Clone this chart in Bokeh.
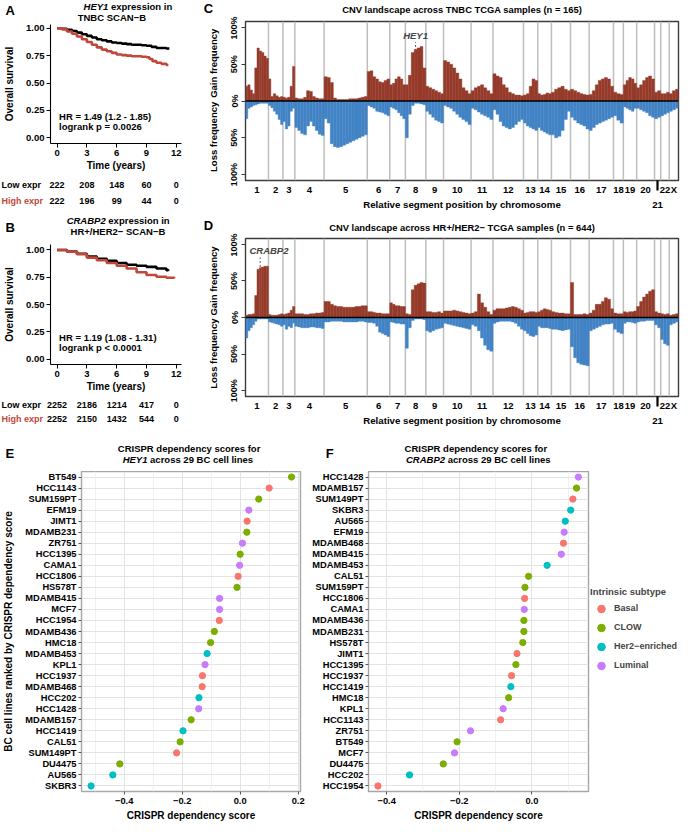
import math
from bokeh.plotting import figure
from bokeh.models import (Label, Range1d, FactorRange, FixedTicker, NumeralTickFormatter,
                          Legend, LegendItem, Span, LinearAxis)
from bokeh.layouts import row, column
from bokeh.embed import file_html
from bokeh.resources import INLINE

# ======================= DATA =======================
# Kaplan-Meier curves (time in years, survival probability)
A_LOW_T = [0, 0.5, 1, 1.5, 2, 2.5, 3, 3.5, 4, 4.5, 5, 5.5, 6, 6.5, 7, 7.5, 8, 8.5, 9, 9.5, 10, 10.5, 11, 11.3]
A_LOW_S = [1.0, 0.995, 0.985, 0.975, 0.96, 0.945, 0.93, 0.915, 0.90, 0.89, 0.88, 0.87, 0.865, 0.86, 0.855,
           0.85, 0.85, 0.845, 0.84, 0.83, 0.82, 0.82, 0.815, 0.815]
A_HIGH_T = [0, 0.5, 1, 1.5, 2, 2.5, 3, 3.5, 4, 4.5, 5, 5.5, 6, 6.5, 7, 7.5, 8, 8.5, 9, 9.3, 9.6, 10, 10.5, 11, 11.2]
A_HIGH_S = [1.0, 0.99, 0.97, 0.95, 0.925, 0.90, 0.875, 0.85, 0.825, 0.805, 0.79, 0.775, 0.76, 0.755, 0.75,
            0.745, 0.745, 0.74, 0.735, 0.72, 0.70, 0.685, 0.675, 0.665, 0.665]
B_LOW_T = [0, 1, 2, 3, 4, 5, 6, 7, 8, 9, 10, 11, 11.2]
B_LOW_S = [1.0, 0.985, 0.965, 0.94, 0.92, 0.90, 0.88, 0.865, 0.855, 0.845, 0.83, 0.815, 0.81]
B_HIGH_T = [0, 1, 2, 3, 4, 5, 6, 7, 8, 9, 10, 11, 11.8]
B_HIGH_S = [1.0, 0.985, 0.96, 0.93, 0.905, 0.88, 0.855, 0.83, 0.795, 0.77, 0.755, 0.745, 0.74]

RISK_T = [0, 3, 6, 9, 12]
A_LOW_RISK = [222, 208, 148, 60, 0]
A_HIGH_RISK = [222, 196, 99, 44, 0]
B_LOW_RISK = [2252, 2186, 1214, 417, 0]
B_HIGH_RISK = [2252, 2150, 1432, 544, 0]

# CNV landscapes: relative number of segments per chromosome, gain / loss frequency (%) per block
CHROMS = ["1", "2", "3", "4", "5", "6", "7", "8", "9", "10", "11", "12", "13", "14", "15", "16",
          "17", "18", "19", "20", "21", "22", "X"]
CHR_SEGMENTS = [235, 148, 122, 299, 442, 230, 160, 209, 181, 282, 224, 312, 146, 140, 195, 191,
                249, 101, 136, 183, 63, 87, 95]
C_GAIN = [
    [20, 22, 15, 10, 45, 72, 68, 66, 61, 58], [30, 6, 10, 7, 5, 6], [5, 4, 5, 20, 47],
    [4, 3, 3, 5, 14, 13, 6, 4, 3, 3], [33, 32, 25, 4, 2, 2, 2, 2, 3, 3, 3, 4, 5, 6],
    [40, 41, 33, 30, 26, 25, 28, 30], [22, 24, 30, 33, 30, 22], [22, 35, 66, 70, 72, 74, 45],
    [20, 18, 16, 14, 12, 10], [55, 53, 50, 45, 38, 30, 18, 14, 10], [14, 18, 20, 22, 18, 14, 10],
    [37, 34, 32, 22, 18, 12, 10, 8, 8, 7], [8, 10, 20, 30, 28], [10, 8, 9, 11, 10],
    [12, 16, 18, 20, 16, 14], [16, 14, 12, 10, 9, 8], [9, 14, 22, 28, 30, 32, 30, 20],
    [12, 10, 9], [22, 28, 32, 30, 24], [18, 22, 28, 32, 34, 30], [12, 14], [10, 10, 12], [10, 14, 16]]
C_LOSS = [
    [24, 10, 8, 6, 5, 4, 3, 3, 3, 3], [6, 9, 14, 18, 25, 32], [28, 38, 34, 14, 10],
    [36, 40, 44, 46, 34, 28, 34, 40, 45, 47], [24, 30, 58, 62, 63, 62, 60, 58, 56, 54, 52, 50, 48, 46],
    [6, 8, 10, 14, 15, 16, 18, 20], [8, 10, 12, 16, 20, 24], [50, 18, 6, 3, 3, 4, 5],
    [14, 18, 22, 26, 28, 30], [6, 8, 10, 14, 18, 22, 25, 28, 32], [10, 12, 15, 18, 20, 22, 25],
    [12, 18, 28, 34, 36, 38, 36, 32, 28, 25], [30, 34, 36, 38, 40], [36, 40, 42, 44, 46],
    [46, 50, 48, 40, 25, 14], [22, 26, 30, 32, 34, 38], [40, 36, 32, 30, 28, 26, 24, 22],
    [20, 26, 30], [8, 10, 12, 14, 10], [10, 12, 14, 16, 20, 22], [24, 22], [20, 18, 16], [14, 12, 10]]
D_GAIN = [
    [3, 4, 4, 5, 30, 66, 68, 69, 70, 70], [4, 3, 3, 3, 4, 5], [4, 5, 6, 10, 15],
    [5, 5, 5, 4, 4, 5, 5, 6, 6, 7], [22, 22, 18, 16, 15, 15, 14, 14, 14, 14, 15, 15, 16, 16],
    [8, 8, 7, 6, 6, 5, 5, 5], [20, 18, 16, 16, 15, 15], [5, 4, 38, 44, 46, 48, 47],
    [8, 8, 7, 7, 8, 6], [9, 9, 9, 10, 9, 8, 7, 6, 5], [6, 8, 32, 20, 14, 8, 4],
    [10, 12, 12, 12, 13, 14, 15, 14, 12, 10], [6, 7, 8, 8, 7], [8, 10, 12, 11, 10],
    [8, 7, 6, 6, 5, 5], [48, 4, 4, 4, 5, 4], [6, 10, 18, 18, 22, 27, 25, 12],
    [6, 5, 5], [8, 7, 8, 8, 9], [15, 22, 28, 32, 36, 38], [8, 6], [5, 4, 5], [3, 4, 5]]
D_LOSS = [
    [28, 18, 14, 10, 5, 2, 2, 2, 2, 2], [6, 7, 8, 9, 10, 12], [10, 16, 12, 14, 8],
    [12, 13, 14, 14, 14, 13, 13, 14, 14, 15], [6, 6, 5, 5, 5, 5, 6, 6, 6, 6, 6, 5, 5, 6],
    [7, 7, 8, 12, 20, 22, 24, 26], [6, 7, 8, 8, 9, 9], [42, 14, 4, 2, 2, 2, 3],
    [18, 20, 18, 16, 15, 14], [8, 9, 10, 11, 12, 13, 14, 15, 16], [10, 12, 18, 28, 38, 44, 46],
    [8, 6, 5, 5, 5, 5, 6, 8, 12, 16], [18, 22, 25, 26, 24], [12, 14, 14, 14, 15],
    [16, 16, 17, 18, 17, 16], [40, 55, 62, 64, 65, 66], [18, 16, 14, 12, 10, 9, 9, 8],
    [16, 20, 22], [8, 6, 6, 7, 8], [6, 5, 5, 4, 4, 4], [10, 14], [30, 36, 38], [10, 8, 6]]
HEY1_POS = 1740
CRABP2_POS = 150

# CRISPR dependency scores
SUBTYPES = ["Basal", "CLOW", "Her2−enriched", "Luminal"]
SUBTYPE_COLORS = ["#F8766D", "#7CAE00", "#00BFC4", "#C77CFF"]
E_LINES = ["BT549", "HCC1143", "SUM159PT", "EFM19", "JIMT1", "MDAMB231", "ZR751", "HCC1395", "CAMA1",
           "HCC1806", "HS578T", "MDAMB415", "MCF7", "HCC1954", "MDAMB436", "HMC18", "MDAMB453", "KPL1",
           "HCC1937", "MDAMB468", "HCC202", "HCC1428", "MDAMB157", "HCC1419", "CAL51", "SUM149PT",
           "DU4475", "AU565", "SKBR3"]
E_SCORES = [0.177, 0.100, 0.064, 0.030, 0.024, 0.023, 0.008, 0.000, -0.002, -0.007, -0.011, -0.071,
            -0.071, -0.072, -0.089, -0.102, -0.114, -0.121, -0.130, -0.131, -0.142, -0.143, -0.169,
            -0.197, -0.207, -0.219, -0.415, -0.439, -0.514]
E_TYPES = ["CLOW", "Basal", "CLOW", "Luminal", "Basal", "CLOW", "Luminal", "CLOW", "Luminal", "Basal",
           "CLOW", "Luminal", "Luminal", "Basal", "CLOW", "CLOW", "Her2−enriched", "Luminal", "Basal",
           "Basal", "Her2−enriched", "Luminal", "CLOW", "Her2−enriched", "CLOW", "Basal", "CLOW",
           "Her2−enriched", "Her2−enriched"]
F_LINES = ["HCC1428", "MDAMB157", "SUM149PT", "SKBR3", "AU565", "EFM19", "MDAMB468", "MDAMB415",
           "MDAMB453", "CAL51", "SUM159PT", "HCC1806", "CAMA1", "MDAMB436", "MDAMB231", "HS578T", "JIMT1",
           "HCC1395", "HCC1937", "HCC1419", "HMC18", "KPL1", "HCC1143", "ZR751", "BT549", "MCF7",
           "DU4475", "HCC202", "HCC1954"]
F_SCORES = [0.128, 0.123, 0.113, 0.107, 0.092, 0.089, 0.087, 0.081, 0.042, -0.009, -0.019, -0.020,
            -0.021, -0.022, -0.022, -0.025, -0.041, -0.044, -0.056, -0.058, -0.064, -0.079, -0.086,
            -0.169, -0.206, -0.213, -0.244, -0.337, -0.424]
F_TYPES = ["Luminal", "CLOW", "Basal", "Her2−enriched", "Her2−enriched", "Luminal", "Basal", "Luminal",
           "Her2−enriched", "CLOW", "CLOW", "Basal", "Luminal", "CLOW", "CLOW", "CLOW", "Basal", "CLOW",
           "Basal", "Her2−enriched", "CLOW", "Luminal", "Basal", "Luminal", "CLOW", "Luminal", "CLOW",
           "Her2−enriched", "Basal"]

# ======================= STYLE / LAYOUT =======================
PAGE_W, PAGE_H = 680, 823
SX, SY = PAGE_W / 696.0, PAGE_H / 839.0
FONT = "Liberation Sans"
KM_RED = "#C0473A"
GAIN_COL = "#963A2A"
LOSS_COL = "#4283C5"
W_BOLD = {"H": .722, "E": .667, "Y": .667, "1": .556, "C": .722, "R": .722, "A": .722, "B": .722,
          "P": .667, "2": .556, " ": .278}


def tw(s, size):
    return sum(W_BOLD[c] for c in s) * size


def geom(box, frame=None):
    X0, Y0, X1, Y1 = box
    ox, oy = round(X0 * SX), round(Y0 * SY)
    w, h = round(X1 * SX) - ox, round(Y1 * SY) - oy
    if frame is None:
        return dict(ox=ox, oy=oy, w=w, h=h, fl=0, ft=0, fr=w, fb=h)
    return dict(ox=ox, oy=oy, w=w, h=h,
                fl=round(frame[0] * SX) - ox, ft=round(frame[1] * SY) - oy,
                fr=round(frame[2] * SX) - ox, fb=round(frame[3] * SY) - oy)


def make_fig(g, **kw):
    p = figure(width=g["w"], height=g["h"], title=None, frame_align=False,
               min_border_left=g["fl"], min_border_right=g["w"] - g["fr"],
               min_border_top=g["ft"], min_border_bottom=g["h"] - g["fb"],
               output_backend="svg", toolbar_location=None, **kw)
    p.grid.visible = False
    p.outline_line_color = None
    return p


def strip(box, x_range=None):
    g = geom(box)
    p = figure(width=g["w"], height=g["h"], title=None, frame_align=False, min_border=0,
               min_border_left=0, min_border_right=0, min_border_top=0, min_border_bottom=0,
               output_backend="svg", toolbar_location=None,
               x_axis_location=None, y_axis_location=None,
               x_range=x_range if x_range is not None else Range1d(0, g["w"]),
               y_range=Range1d(0, g["h"]))
    p.grid.visible = False
    p.outline_line_color = None
    return p, g


def sx_(g, X):
    return X * SX - g["ox"] - g["fl"]


def sy_(g, Y):
    return g["fb"] - (Y * SY - g["oy"])


def text(p, g, X, Y, s, size=9.5, style="bold", align="left", color="black", angle=0.0, dx=0.0):
    p.add_layout(Label(x=sx_(g, X) + dx, y=sy_(g, Y), x_units="screen", y_units="screen", text=s,
                       text_font=FONT, text_font_size=f"{size}px", text_font_style=style,
                       text_align=align, text_baseline="middle", text_color=color, angle=angle))


def style_axis(ax, size=9.5):
    ax.major_label_text_font = FONT
    ax.major_label_text_font_style = "bold"
    ax.major_label_text_font_size = f"{size}px"
    ax.major_label_text_color = "black"
    ax.axis_label_text_font = FONT
    ax.axis_label_text_font_style = "bold"
    ax.axis_label_text_font_size = "10px"
    ax.axis_label_text_color = "black"
    ax.minor_tick_line_color = None


# ---------------- KM panels ----------------
KM_X = (-0.66, 12.52)


def km_block(top_box, plot_box, frame, risk_box, y_rng, lo_t, lo_s, hi_t, hi_s, lo_risk, hi_risk,
             letter, letterY, gene, rest, line2, t1x, t2x, tY1, tY2, hr, pv, hrY, riskY):
    ts, tg = strip(top_box)
    text(ts, tg, 5, letterY, letter, size=13)
    text(ts, tg, t1x, tY1, gene, style="bold italic")
    text(ts, tg, t1x, tY1, rest, dx=tw(gene + " ", 9.5))
    text(ts, tg, t2x, tY2, line2)

    g = geom(plot_box, frame)
    p = make_fig(g, x_range=Range1d(*KM_X), y_range=Range1d(*y_rng))
    p.step(lo_t, lo_s, mode="after", line_color="black", line_width=2.6)
    p.step(hi_t, hi_s, mode="after", line_color=KM_RED, line_width=2.6)
    for ax in (p.xaxis[0], p.yaxis[0]):
        style_axis(ax)
        ax.axis_line_color = "black"
        ax.axis_line_width = 1.1
        ax.major_tick_line_color = "black"
        ax.major_tick_out = 4
        ax.major_tick_in = 0
        ax.major_label_standoff = 2
    p.xaxis.ticker = FixedTicker(ticks=RISK_T)
    p.xaxis.axis_label = "Time (years)"
    p.xaxis.axis_label_standoff = 1
    p.yaxis.ticker = FixedTicker(ticks=[0, 0.25, 0.5, 0.75, 1.0])
    p.yaxis.formatter = NumeralTickFormatter(format="0.00")
    p.yaxis.axis_label = "Overall survival"
    p.yaxis.axis_label_standoff = 8
    text(p, g, 60, hrY[0], hr)
    text(p, g, 60, hrY[1], pv)

    rg0 = geom(risk_box)
    k = (g["fr"] - g["fl"]) / (KM_X[1] - KM_X[0])
    rr = Range1d(KM_X[0] - g["fl"] / k, KM_X[1] + (rg0["w"] - g["fr"]) / k)
    rs, rg = strip(risk_box, x_range=rr)
    for lab, vals, col, Y in (("Low expr", lo_risk, "black", riskY[0]),
                              ("High expr", hi_risk, KM_RED, riskY[1])):
        text(rs, rg, 1, Y, lab, size=9, color=col)
        for t, v in zip(RISK_T, vals):
            rs.add_layout(Label(x=t, y=sy_(rg, Y), x_units="data", y_units="screen", text=str(v),
                                text_font=FONT, text_font_size="9px", text_font_style="bold",
                                text_align="center", text_baseline="middle", text_color="black"))
    return [ts, p, rs]


colA = km_block((0, 0, 205, 22.5), (0, 22.5, 205, 176), (51, 24.5, 185, 145.7), (0, 176, 205, 218),
                (-0.051, 1.034), A_LOW_T, A_LOW_S, A_HIGH_T, A_HIGH_S, A_LOW_RISK, A_HIGH_RISK,
                "A", 10, "HEY1", "expression in", "TNBC SCAN−B", 85, 79, 6.3, 17,
                "HR = 1.49 (1.2 - 1.85)", "logrank p = 0.0026", (118.3, 128.3), (188, 204))
colB = km_block((0, 218, 205, 246), (0, 246, 205, 402), (51, 248.4, 185, 371.6), (0, 402, 205, 440),
                (-0.05, 1.05), B_LOW_T, B_LOW_S, B_HIGH_T, B_HIGH_S, B_LOW_RISK, B_HIGH_RISK,
                "B", 231, "CRABP2", "expression in", "HR+/HER2− SCAN−B", 67.7, 71.7, 224.5, 236,
                "HR = 1.19 (1.08 - 1.31)", "logrank p < 0.0001", (344.3, 355), (412, 427))


# ---------------- CNV panels ----------------
def cnv_block(top_box, side_box, plot_box, frame, gain, loss, letter, title, titleY, letterY, gainY, lossY,
              gene, gpos, glx, galign, gy, gy0, gy1):
    ts, tg = strip(top_box)
    text(ts, tg, 208, letterY, letter, size=13)
    text(ts, tg, 472.5, titleY, title, size=9.4, align="center")
    ss, sg = strip(side_box)
    text(ss, sg, 218, gainY, "Gain frequency", align="center", angle=math.pi / 2)
    text(ss, sg, 218, lossY, "Loss frequency", align="center", angle=math.pi / 2)

    g = geom(plot_box, frame)
    total = sum(CHR_SEGMENTS)
    p = make_fig(g, x_range=Range1d(0, total), y_range=Range1d(-1.08, 1.08))
    p.outline_line_color = "#3C3C3C"
    p.outline_line_width = 1.4
    bounds = [0]
    for n in CHR_SEGMENTS:
        bounds.append(bounds[-1] + n)
    for b in bounds[1:-1]:
        p.add_layout(Span(location=b, dimension="height", line_color="#BEBEBE", line_width=1.5,
                          level="underlay"))

    def blocks(vals_per_chr, sign):
        left, right, top, bottom = [], [], [], []
        for ci, vals in enumerate(vals_per_chr):
            a, b = bounds[ci], bounds[ci + 1]
            n = len(vals)
            for j, v in enumerate(vals):
                left.append(a + (b - a) * j / n)
                right.append(a + (b - a) * (j + 1) / n)
                if sign > 0:
                    bottom.append(0)
                    top.append(v / 100)
                else:
                    top.append(0)
                    bottom.append(-v / 100)
        return left, right, top, bottom

    l, r, t, b = blocks(gain, 1)
    p.quad(left=l, right=r, top=t, bottom=b, fill_color=GAIN_COL, line_color=GAIN_COL, line_width=0.4)
    l, r, t, b = blocks(loss, -1)
    p.quad(left=l, right=r, top=t, bottom=b, fill_color=LOSS_COL, line_color=LOSS_COL, line_width=0.4)
    p.add_layout(Span(location=0, dimension="width", line_color="black", line_width=1.5))

    yax = p.yaxis[0]
    style_axis(yax, 9)
    yax.ticker = FixedTicker(ticks=[-1, -0.5, 0, 0.5, 1])
    yax.major_label_overrides = {-1: "100%", -0.5: "50%", 0: "0%", 0.5: "50%", 1: "100%"}
    yax.major_label_orientation = "vertical"
    yax.axis_line_color = None
    yax.major_tick_line_color = "#3C3C3C"
    yax.major_tick_out = 4
    yax.major_tick_in = 0
    yax.major_label_standoff = 2

    centers = [(bounds[i] + bounds[i + 1]) / 2 for i in range(len(CHROMS))]
    i21 = CHROMS.index("21")
    xax = p.xaxis[0]
    style_axis(xax)
    xax.ticker = FixedTicker(ticks=[c for i, c in enumerate(centers) if i != i21],
                             minor_ticks=[centers[i21]])
    xax.major_label_overrides = {c: CHROMS[i] for i, c in enumerate(centers) if i != i21}
    xax.major_tick_line_color = None
    xax.major_tick_out = 0
    xax.minor_tick_line_color = "black"
    xax.minor_tick_line_width = 2.2
    xax.minor_tick_out = 10
    xax.minor_tick_in = 0
    xax.axis_line_color = None
    xax.major_label_standoff = -7

    mid = total / 2
    ax2 = LinearAxis(ticker=FixedTicker(ticks=[mid, centers[i21]]),
                     major_label_overrides={mid: "Relative segment position by chromosome", centers[i21]: "21"})
    style_axis(ax2, 9.7)
    ax2.major_tick_line_color = None
    ax2.major_tick_out = 0
    ax2.axis_line_color = None
    ax2.major_label_standoff = 1
    p.add_layout(ax2, "below")

    p.segment(x0=[gpos], y0=[gy0], x1=[gpos], y1=[gy1], line_color="#555555", line_width=1,
              line_dash="2 2")
    p.add_layout(Label(x=glx, y=gy, x_units="data", y_units="data", text=gene, text_font=FONT,
                       text_font_size="9.5px", text_font_style="bold italic", text_align=galign,
                       text_baseline="middle"))
    return ts, ss, p


tC, sC, pC = cnv_block((205, 0, 696, 16), (205, 16, 228, 220), (228, 16, 696, 220), (251, 21, 694, 183),
                       C_GAIN, C_LOSS, "C", "CNV landscape across TNBC TCGA samples (n = 165)", 9.5, 8.5,
                       64, 139, "HEY1", HEY1_POS, HEY1_POS, "center", 0.89, 0.68, 0.80)
tD, sD, pD = cnv_block((205, 220, 696, 238), (205, 238, 228, 440), (228, 238, 696, 440), (251, 243, 694, 404),
                       D_GAIN, D_LOSS, "D", "CNV landscape across HR+/HER2− TCGA samples (n = 644)", 231.5,
                       229.5, 286, 360, "CRABP2", CRABP2_POS, 40, "left", 0.91, 0.69, 0.82)


# ---------------- CRISPR dot panels ----------------
def dot_block(top_box, plot_box, frame, lines, scores, types, xlo, xhi, ticks, minor, letter, letterX,
              l1cx, gene, l2x, ylabel):
    ts, tg = strip(top_box)
    text(ts, tg, letterX, 461.5, letter, size=13)
    text(ts, tg, l1cx, 456.5, "CRISPR dependency scores for", align="center")
    text(ts, tg, l2x, 467.5, gene, style="bold italic")
    text(ts, tg, l2x, 467.5, "across 29 BC cell lines", dx=tw(gene + " ", 9.5))

    g = geom(plot_box, frame)
    p = make_fig(g, x_range=Range1d(xlo, xhi),
                 y_range=FactorRange(factors=list(reversed(lines)), range_padding=0))
    p.outline_line_color = "#A6A6A6"
    p.outline_line_width = 1.4
    tk = FixedTicker(ticks=ticks, minor_ticks=minor)
    p.xaxis.ticker = tk
    p.xgrid.ticker = tk
    p.xgrid.visible = True
    p.ygrid.visible = True
    p.xgrid.grid_line_color = "#E3E3E3"
    p.xgrid.minor_grid_line_color = "#F1F1F1"
    p.ygrid.grid_line_color = "#E3E3E3"
    for s, col in zip(SUBTYPES, SUBTYPE_COLORS):
        xs = [v for v, t in zip(scores, types) if t == s]
        ys = [n for n, t in zip(lines, types) if t == s]
        p.scatter(xs, ys, size=6.3, fill_color=col, line_color=col)
    for ax in (p.xaxis[0], p.yaxis[0]):
        style_axis(ax, 9.3)
        ax.axis_line_color = None
        ax.major_tick_line_color = "#555555"
        ax.major_tick_out = 3
        ax.major_tick_in = 0
        ax.major_label_standoff = 2
    p.xaxis.major_label_overrides = {t: (f"{t:.1f}".replace("-", "−")) for t in ticks}
    p.xaxis.axis_label = "CRISPR dependency score"
    p.xaxis.axis_label_standoff = 3
    if ylabel:
        p.yaxis.axis_label = ylabel
        p.yaxis.axis_label_standoff = 8
    return ts, p


tE, pE = dot_block((0, 440, 314, 480), (0, 480, 314, 839), (83, 480, 307, 806), E_LINES, E_SCORES,
                   E_TYPES, -0.547, 0.208, [-0.4, -0.2, 0.0, 0.2], [-0.5, -0.3, -0.1, 0.1], "E", 5,
                   193, "HEY1", 125, "BC cell lines ranked by CRISPR dependency score")
tF, pF = dot_block((314, 440, 696, 480), (314, 480, 604, 839), (377, 480, 602, 806), F_LINES,
                   F_SCORES, F_TYPES, -0.450, 0.156, [-0.4, -0.2, 0.0], [-0.3, -0.1, 0.1], "F", 333,
                   486.5, "CRABP2", 415, None)

# legend panel for the subtype colours (legend glyphs come from the F scores, kept outside the view)
LG_BOX = (604, 480, 696, 839)
lg0 = geom(LG_BOX)
lg_strip, lgg = strip(LG_BOX, x_range=Range1d(100, 100 + lg0["w"]))
legend_items = []
for s, col in zip(SUBTYPES, SUBTYPE_COLORS):
    xs = [v for v, t in zip(F_SCORES, F_TYPES) if t == s]
    r = lg_strip.scatter(xs, xs, size=8, fill_color=col, line_color=col)
    legend_items.append(LegendItem(label=s, renderers=[r]))
legend = Legend(items=legend_items, location=(sx_(lgg, 604), sy_(lgg, 688)), title="Intrinsic subtype",
                title_text_font=FONT, title_text_font_style="bold", title_text_font_size="9.5px",
                title_standoff=2, label_text_font=FONT, label_text_font_style="bold",
                label_text_font_size="9px", glyph_width=22, glyph_height=19, label_height=19,
                label_standoff=2, spacing=0, padding=0, margin=0, border_line_color=None,
                background_fill_alpha=0)
lg_strip.add_layout(legend)

left_col = column(*colA, *colB)
right_col = column(tC, row(sC, pC), tD, row(sD, pD))
bottom = row(column(tE, pE), column(tF, row(pF, lg_strip)))
layout = column(row(left_col, right_col), bottom)
open("out.html", "w").write(file_html(layout, INLINE, title="figure"))
